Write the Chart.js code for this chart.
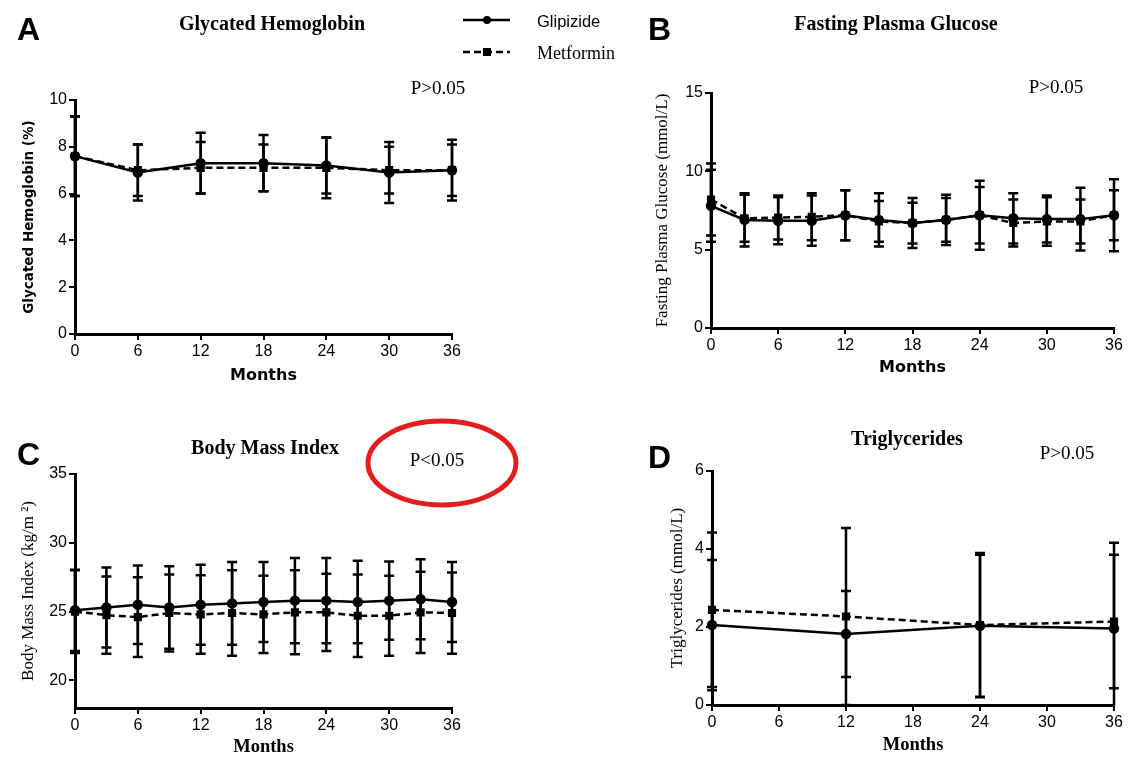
<!DOCTYPE html>
<html>
<head>
<meta charset="utf-8">
<script src="https://cdn.jsdelivr.net/npm/chart.js@4"></script>
<style>
  body { margin: 0; background: #fff; }
  #page { position: relative; width: 1129px; height: 758px; overflow: hidden; background: #fff; }
  canvas { position: absolute; }
  .lbl { position: absolute; white-space: nowrap; color: #000; line-height: 1; }
  .letter { font: bold 32px "Liberation Sans", Arial, sans-serif; }
  .ttl { font: bold 20px "Liberation Serif", "Times New Roman", serif; transform: translate(-50%, -50%); }
  .pv { font: 19px "Liberation Serif", "Times New Roman", serif; transform: translate(-50%, -50%); }
  svg { position: absolute; left: 0; top: 0; }
</style>
</head>
<body>
<div id="page">
  <canvas id="chartA" width="560" height="340" style="left:0;top:60px"></canvas>
  <canvas id="chartB" width="569" height="340" style="left:560px;top:60px"></canvas>
  <canvas id="chartC" width="560" height="358" style="left:0;top:400px"></canvas>
  <canvas id="chartD" width="569" height="358" style="left:560px;top:400px"></canvas>

  <svg width="1129" height="758">
    <line x1="463" y1="20" x2="510" y2="20" stroke="#000" stroke-width="2.5"/>
    <circle cx="487" cy="20" r="4" fill="#000"/>
    <line x1="463" y1="52" x2="510" y2="52" stroke="#000" stroke-width="2.5" stroke-dasharray="7,4"/>
    <rect x="483" y="48" width="8" height="8" fill="#000"/>
    <ellipse cx="442" cy="463" rx="74" ry="42" fill="none" stroke="#e41e1e" stroke-width="5"/>
  </svg>

  <div class="lbl" style="left:537px;top:12px;font:16.5px 'Liberation Sans',Arial,sans-serif">Glipizide</div>
  <div class="lbl" style="left:537px;top:43px;font:18px 'Liberation Serif','Times New Roman',serif">Metformin</div>

  <div class="lbl letter" style="left:17px;top:11px">A</div>
  <div class="lbl letter" style="left:648px;top:11px">B</div>
  <div class="lbl letter" style="left:17px;top:436px">C</div>
  <div class="lbl letter" style="left:648px;top:439px">D</div>

  <div class="lbl ttl" style="left:272px;top:23px">Glycated Hemoglobin</div>
  <div class="lbl ttl" style="left:896px;top:23px">Fasting Plasma Glucose</div>
  <div class="lbl ttl" style="left:265px;top:447px">Body Mass Index</div>
  <div class="lbl ttl" style="left:907px;top:438px">Triglycerides</div>

  <div class="lbl pv" style="left:438px;top:88px">P&gt;0.05</div>
  <div class="lbl pv" style="left:1056px;top:87px">P&gt;0.05</div>
  <div class="lbl pv" style="left:437px;top:460px">P&lt;0.05</div>
  <div class="lbl pv" style="left:1067px;top:453px">P&gt;0.05</div>
</div>

<script>
// A - glycated hemoglobin (%)
const hbaMonths = [0, 6, 12, 18, 24, 30, 36];
const hbaGlip = [7.6, 6.9, 7.3, 7.3, 7.2, 6.9, 7.0];
const hbaGlipSd = [1.7, 1.2, 1.3, 1.2, 1.2, 1.3, 1.3];
const hbaMet = [7.6, 7.0, 7.1, 7.1, 7.1, 7.0, 7.0];
const hbaMetSd = [1.7, 1.1, 1.1, 1.0, 1.3, 1.0, 1.1];

// B - fasting plasma glucose (mmol/L)
const fpgMonths = [0, 3, 6, 9, 12, 15, 18, 21, 24, 27, 30, 33, 36];
const fpgGlip = [7.8, 6.9, 6.85, 6.85, 7.2, 6.9, 6.7, 6.9, 7.2, 7.0, 6.95, 6.95, 7.2];
const fpgGlipSd = [2.3, 1.7, 1.5, 1.6, 1.6, 1.7, 1.6, 1.6, 2.2, 1.6, 1.5, 2.0, 2.3];
const fpgMet = [8.2, 7.0, 7.05, 7.1, 7.2, 6.8, 6.7, 6.9, 7.2, 6.7, 6.8, 6.8, 7.2];
const fpgMetSd = [2.3, 1.5, 1.4, 1.5, 1.6, 1.3, 1.3, 1.4, 1.8, 1.5, 1.55, 1.4, 1.6];

// C - body mass index (kg/m2)
const bmiMonths = [0, 3, 6, 9, 12, 15, 18, 21, 24, 27, 30, 33, 36];
const bmiGlip = [25.1, 25.3, 25.5, 25.3, 25.5, 25.6, 25.7, 25.8, 25.8, 25.7, 25.8, 25.9, 25.7];
const bmiGlipSd = [2.95, 2.9, 2.85, 3.0, 2.9, 3.0, 2.9, 3.1, 3.1, 3.0, 2.85, 2.9, 2.9];
const bmiMet = [25.0, 24.75, 24.6, 24.9, 24.8, 24.9, 24.8, 24.95, 24.95, 24.7, 24.7, 24.95, 24.9];
const bmiMetSd = [3.0, 2.8, 2.9, 2.8, 2.85, 3.1, 2.8, 3.05, 2.8, 3.0, 2.9, 2.95, 2.95];

// D - triglycerides (mmol/L)
const tgMonths = [0, 12, 24, 36];
const tgGlip = [2.05, 1.82, 2.03, 1.96];
const tgGlipSd = [1.67, 1.1, 1.82, 2.2];
const tgMet = [2.44, 2.27, 2.05, 2.14];
const tgMetSd = [1.98, 2.27, 1.85, 1.71];

// draws mean +/- SD whiskers for datasets that carry an sd array
const errorBars = {
  id: 'errorBars',
  afterDatasetsDraw(chart) {
    const ctx = chart.ctx;
    const area = chart.chartArea;
    const ys = chart.scales.y;
    ctx.save();
    ctx.beginPath();
    ctx.rect(area.left - 20, area.top - 2, area.right - area.left + 40, area.bottom - area.top + 2);
    ctx.clip();
    ctx.strokeStyle = '#000';
    ctx.lineWidth = 2.5;
    chart.data.datasets.forEach((ds, i) => {
      if (!ds.sd) return;
      chart.getDatasetMeta(i).data.forEach((pt, j) => {
        const v = ds.data[j].y;
        const top = ys.getPixelForValue(v + ds.sd[j]);
        const bot = ys.getPixelForValue(v - ds.sd[j]);
        ctx.beginPath();
        ctx.moveTo(pt.x, top); ctx.lineTo(pt.x, bot);
        ctx.moveTo(pt.x - 5, top); ctx.lineTo(pt.x + 5, top);
        ctx.moveTo(pt.x - 5, bot); ctx.lineTo(pt.x + 5, bot);
        ctx.stroke();
      });
    });
    ctx.restore();
  }
};

function points(xs, ys) {
  return xs.map((x, i) => ({ x: x, y: ys[i] }));
}

function series(months, glip, glipSd, met, metSd) {
  return [{
    label: 'Glipizide',
    data: points(months, glip),
    sd: glipSd,
    borderColor: '#000',
    backgroundColor: '#000',
    borderWidth: 2.5,
    pointStyle: 'circle',
    pointRadius: 4,
    clip: false
  }, {
    label: 'Metformin',
    data: points(months, met),
    sd: metSd,
    borderColor: '#000',
    backgroundColor: '#000',
    borderWidth: 2.5,
    borderDash: [7, 4],
    pointStyle: 'rect',
    pointRadius: 4,
    clip: false
  }];
}

const sansBold = { family: 'DejaVu Sans', weight: 'bold' };
const serif = { family: 'Liberation Serif' };
const tickFont = { family: 'Liberation Sans', size: 16 };

function makeChart(id, p) {
  return new Chart(document.getElementById(id), {
    type: 'line',
    data: { datasets: p.datasets },
    options: {
      responsive: false,
      animation: false,
      layout: { padding: p.padding },
      plugins: { legend: { display: false }, tooltip: { enabled: false } },
      scales: {
        x: {
          type: 'linear',
          min: 0, max: 36,
          ticks: { stepSize: 6, color: '#000', font: tickFont, padding: 2, maxRotation: 0 },
          grid: { drawOnChartArea: false, color: '#000', lineWidth: 2, tickLength: 6 },
          border: { color: '#000', width: 3 },
          title: { display: true, text: 'Months', color: '#000', font: p.xFont, padding: { top: 0, bottom: p.xTitlePad } },
          afterFit(s) { s.height = p.xHeight; }
        },
        y: {
          min: p.yMin, max: p.yMax,
          ticks: { stepSize: p.yStep, color: '#000', font: tickFont, padding: 2 },
          grid: { drawOnChartArea: false, color: '#000', lineWidth: 2, tickLength: 6 },
          border: { color: '#000', width: 3 },
          title: { display: true, text: p.yTitle, color: '#000', font: p.yFont, padding: { top: p.yTitlePad, bottom: 0 } },
          afterBuildTicks(s) { s.ticks = s.ticks.filter(t => t.value % p.yStep === 0); },
          afterFit(s) { s.width = p.yWidth; }
        }
      }
    },
    plugins: [errorBars]
  });
}

makeChart('chartA', {
  datasets: series(hbaMonths, hbaGlip, hbaGlipSd, hbaMet, hbaMetSd),
  padding: { left: 0, top: 40, right: 108, bottom: 0 },
  yMin: 0, yMax: 10, yStep: 2,
  yTitle: 'Glycated Hemoglobin (%)',
  yFont: Object.assign({ size: 13.5 }, sansBold), yTitlePad: 21, yWidth: 75,
  xFont: Object.assign({ size: 16 }, sansBold), xTitlePad: 15, xHeight: 66
});

makeChart('chartB', {
  datasets: series(fpgMonths, fpgGlip, fpgGlipSd, fpgMet, fpgMetSd),
  padding: { left: 80, top: 33, right: 15, bottom: 0 },
  yMin: 0, yMax: 15, yStep: 5,
  yTitle: 'Fasting Plasma Glucose (mmol/L)',
  yFont: Object.assign({ size: 17 }, serif), yTitlePad: 12, yWidth: 71,
  xFont: Object.assign({ size: 16 }, sansBold), xTitlePad: 23, xHeight: 72
});

makeChart('chartC', {
  datasets: series(bmiMonths, bmiGlip, bmiGlipSd, bmiMet, bmiMetSd),
  padding: { left: 0, top: 74, right: 108, bottom: 0 },
  yMin: 18, yMax: 35, yStep: 5,
  yTitle: 'Body Mass Index (kg/m \u00B2)',
  yFont: Object.assign({ size: 17 }, serif), yTitlePad: 18, yWidth: 75,
  xFont: Object.assign({ size: 18.5, weight: 'bold' }, serif), xTitlePad: 0, xHeight: 50
});

makeChart('chartD', {
  datasets: series(tgMonths, tgGlip, tgGlipSd, tgMet, tgMetSd),
  padding: { left: 80, top: 71, right: 15, bottom: 0 },
  yMin: 0, yMax: 6, yStep: 2,
  yTitle: 'Triglycerides (mmol/L)',
  yFont: Object.assign({ size: 17 }, serif), yTitlePad: 27, yWidth: 72,
  xFont: Object.assign({ size: 18.5, weight: 'bold' }, serif), xTitlePad: 2, xHeight: 53
});
</script>
</body>
</html>
